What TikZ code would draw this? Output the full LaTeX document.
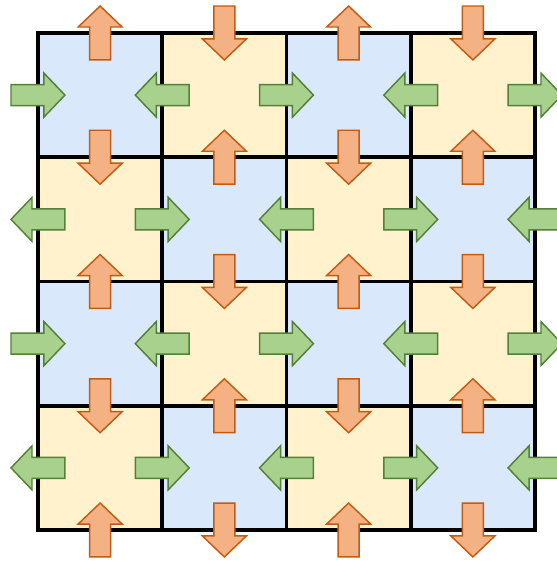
\documentclass[tikz,border=0pt]{standalone}
\usepackage{tikz}
\definecolor{bleu}{RGB}{218,232,252}
\definecolor{jaune}{RGB}{255,242,204}
\definecolor{orangeclair}{RGB}{244,177,131}
\definecolor{orangefonce}{RGB}{197,90,17}
\definecolor{vertclair}{RGB}{169,209,142}
\definecolor{vertfonce}{RGB}{83,129,53}

\tikzset{
  pics/fleche/.style={code={
    \path[pic actions] (-0.651,-0.255) -- (0.144,-0.255) -- (0.144,-0.531) -- (0.651,0)
      -- (0.144,0.531) -- (0.144,0.255) -- (-0.651,0.255) -- cycle;
  }},
  flechev/.style={fill=orangeclair, draw=orangefonce, line width=1pt},
  flecheh/.style={fill=vertclair, draw=vertfonce, line width=1pt}
}

\begin{document}
\begin{tikzpicture}[scale=3]

	\useasboundingbox (-0.3057,-0.2655) rectangle (4.1754,4.2655);

	% Cases en damier
	\foreach \r in {0,...,3} {
		\foreach \c in {0,...,3} {
			\pgfmathtruncatemacro{\s}{\r+\c}
			\ifodd\s \def\teinte{jaune}\else\def\teinte{bleu}\fi
			\fill[\teinte] (\c,3-\r) rectangle (\c+1,4-\r);
		}
	}

	% Quadrillage
	\foreach \k in {1,2,3} {
		\draw[line width=2.5pt] (\k,0) -- (\k,4);
		\draw[line width=2.5pt] (0,\k) -- (4,\k);
	}
	\draw[line width=2.5pt] (0,0) rectangle (4,4);

	% Fleches verticales (aretes horizontales)
	\foreach \r in {0,...,4} {
		\foreach \c in {0,...,3} {
			\pgfmathsetmacro{\ang}{mod(\r+\c,2)==0 ? 90 : -90}
			\pic[flechev, rotate=\ang] at (\c+0.5,4-\r) {fleche};
		}
	}

	% Fleches horizontales (aretes verticales)
	\foreach \r in {0,...,3} {
		\foreach \c in {0,...,4} {
			\pgfmathsetmacro{\ang}{mod(\r+\c,2)==0 ? 0 : 180}
			\pic[flecheh, rotate=\ang] at (\c,3.5-\r) {fleche};
		}
	}

\end{tikzpicture}
\end{document}
